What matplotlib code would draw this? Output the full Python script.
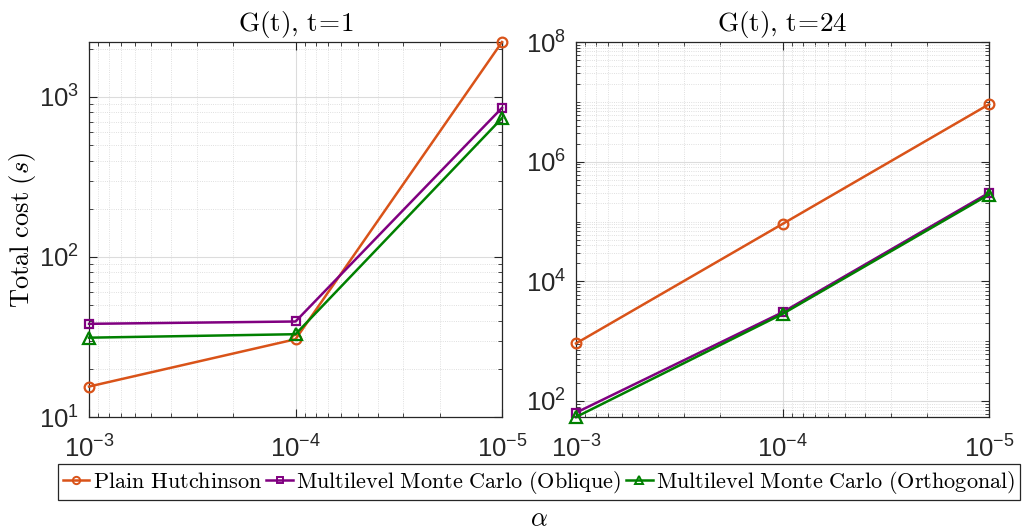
import numpy as np
import matplotlib
matplotlib.use("Agg")
import matplotlib.pyplot as plt
from matplotlib.ticker import LogLocator, FixedLocator, FuncFormatter, NullFormatter
from matplotlib.font_manager import FontProperties
from matplotlib.lines import Line2D

plt.rcParams['mathtext.fontset'] = 'custom'
plt.rcParams['mathtext.rm'] = 'Liberation Sans'
plt.rcParams['mathtext.it'] = 'Liberation Sans:italic'
plt.rcParams['font.family'] = ['Liberation Sans', 'DejaVu Sans']

# data
alpha = [1e-3, 1e-4, 1e-5]
names = ['Plain Hutchinson', 'Multilevel Monte Carlo (Oblique)',
         'Multilevel Monte Carlo (Orthogonal)']
t1_hutch = [15.5, 30.6, 2200]
t1_oblique = [38.2, 39.5, 853]
t1_ortho = [31.3, 32.9, 736]
t24_hutch = [918, 91000, 9.1e6]
t24_oblique = [63.8, 3040, 302000]
t24_ortho = [54, 2850, 282000]

colors = ['#D95319', '#800080', '#008000']
markers = ['o', 's', '^']
msizes = [7, 5.5, 8]

fig = plt.figure(figsize=(10.34, 5.29), dpi=100)
ax1 = fig.add_axes([0.0861, 0.2117, 0.3994, 0.7089])
ax2 = fig.add_axes([0.5571, 0.2117, 0.3994, 0.7089])


def sci(v, pos):
    e = int(round(np.log10(v)))
    return r'$10^{%d}$' % e


def cm(size):
    return FontProperties(size=size, math_fontfamily='cm')


def style(ax, title, ylim, ymajor):
    ax.set_xscale('log')
    ax.set_yscale('log')
    ax.set_xlim(1e-3, 1e-5)
    ax.set_ylim(*ylim)
    ax.xaxis.set_major_locator(FixedLocator(alpha))
    ax.xaxis.set_minor_locator(LogLocator(base=10, subs=np.arange(2, 10), numticks=20))
    ax.yaxis.set_major_locator(FixedLocator(ymajor))
    ax.yaxis.set_minor_locator(LogLocator(base=10, subs=np.arange(1, 10), numticks=30))
    ax.xaxis.set_major_formatter(FuncFormatter(sci))
    ax.yaxis.set_major_formatter(FuncFormatter(sci))
    ax.xaxis.set_minor_formatter(NullFormatter())
    ax.yaxis.set_minor_formatter(NullFormatter())
    ax.tick_params(which='both', direction='in', top=True, right=True,
                   colors='#262626', labelcolor='#262626')
    ax.tick_params(which='major', length=6, width=0.8, labelsize=18.5)
    ax.tick_params(which='minor', length=3, width=0.6)
    ax.tick_params(axis='y', pad=7)
    ax.tick_params(axis='x', pad=13)
    for s in ax.spines.values():
        s.set_color('#262626')
        s.set_linewidth(0.9)
    ax.grid(True, which='major', color='#dcdcdc', linewidth=0.8)
    ax.grid(True, which='minor', color='#d5d5d5', linewidth=0.6, linestyle=':')
    ax.set_axisbelow(True)
    ax.set_title(title, pad=8, fontproperties=cm(19.5))


for ax, series in [(ax1, [t1_hutch, t1_oblique, t1_ortho]),
                   (ax2, [t24_hutch, t24_oblique, t24_ortho])]:
    for vals, c, m, ms in zip(series, colors, markers, msizes):
        ax.plot(alpha, vals, color=c, marker=m, markersize=ms,
                markerfacecolor='none', markeredgewidth=1.6,
                linewidth=1.8, clip_on=False, zorder=3)

style(ax1, r'$\mathrm{G(t),\,t\!=\!1}$', (10, max(t1_hutch)), [10, 100, 1000])
style(ax2, r'$\mathrm{G(t),\,t\!=\!24}$', (min(t24_ortho), 1e8), [1e2, 1e4, 1e6, 1e8])

ax1.set_ylabel(r'$\mathrm{Total\ cost}\ (s)$', labelpad=1, fontproperties=cm(19))

handles = [Line2D([], [], color=c, marker=m, markersize=ms * 0.75,
                  markerfacecolor='none', markeredgewidth=1.4, linewidth=1.8)
           for c, m, ms in zip(colors, markers, msizes)]
labels = [r'$\mathrm{%s}$' % n.replace(' ', r'\ ') for n in names]
leg = fig.legend(handles, labels, loc='center', ncol=3,
                 bbox_to_anchor=(539 / 1034, 1 - 482 / 529),
                 prop=cm(16.0),
                 handlelength=1.2, handletextpad=0.15, columnspacing=0.2,
                 borderpad=0.2, borderaxespad=0, fancybox=False,
                 edgecolor='#262626', framealpha=1)
leg.get_frame().set_linewidth(0.9)

fig.text(539 / 1034, 1 - 519 / 529, r'$\alpha$', ha='center', va='center',
         fontproperties=cm(19))

fig.savefig('out.png', dpi=100)
